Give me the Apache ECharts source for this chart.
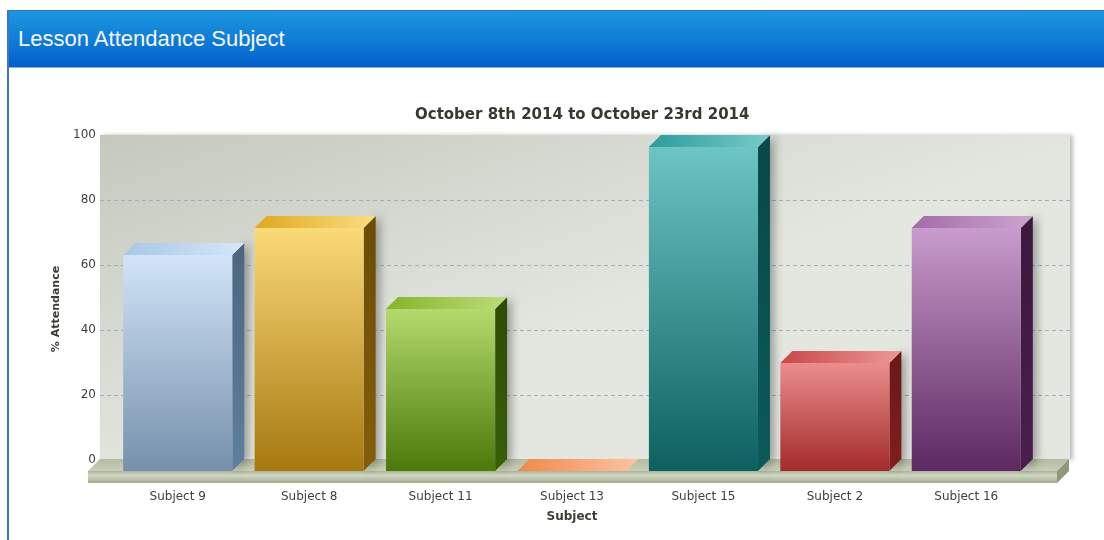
<!DOCTYPE html>
<html>
<head>
<meta charset="utf-8">
<script src="https://cdn.jsdelivr.net/npm/echarts@6/dist/echarts.min.js"></script>
<style>
  html, body { margin: 0; padding: 0; background: #fff; }
  #chart { position: absolute; left: 0; top: 0; width: 1104px; height: 540px; }
  #panel { position: absolute; left: 7px; top: 10px; width: 1097px; height: 530px;
           border-left: 2px solid #3f74c8; box-sizing: border-box; pointer-events: none; }
  #head { height: 58px; border-top: 1px solid #3a6fc4; border-bottom: 1px solid #7fb0e6;
          box-sizing: border-box;
          background: linear-gradient(to bottom, #1b98df 0%, #0f7ad6 55%, #055ecb 100%);
          color: #f4f8fc; font: 22px "Liberation Sans", Arial, sans-serif;
          line-height: 56px; padding-left: 9px; }
</style>
</head>
<body>
<div id="chart"></div>
<div id="panel"><div id="head">Lesson Attendance Subject</div></div>
<script>
// ---------------- data ----------------
var subjects = ['Subject 9', 'Subject 8', 'Subject 11', 'Subject 13', 'Subject 15', 'Subject 2', 'Subject 16'];
var attendance = [66.67, 75, 50, 0, 100, 33.33, 75];
var yTicks = [0, 20, 40, 60, 80, 100];

// front gradient top, front gradient bottom, side, top face
var barColors = [
  ['#d2e5f8', '#7690ac', '#4d6580', '#a8c7e6'],
  ['#fbda78', '#a67810', '#6a4c08', '#dfa81e'],
  ['#b4da6c', '#4a790a', '#2d4c05', '#86b42a'],
  ['#f0884a', '#fbc4a4', '#c8643a', '#f29a68'],
  ['#6cc4c4', '#0e6060', '#094848', '#2c9c9c'],
  ['#ec8d8d', '#a22a2a', '#681818', '#c84848'],
  ['#c89ccc', '#5c2860', '#3c183f', '#a46aa8']
];

var depth = 12;

function lin(a, b, x) {
  return new echarts.graphic.LinearGradient(0, 0, x ? 1 : 0, x ? 0 : 1, [
    { offset: 0, color: a }, { offset: 1, color: b }
  ]);
}

//---------------- 3d bars ----------------
function renderBar(params, api) {
  var i = api.value(0), v = api.value(1);
  var base = api.coord([i, 0]);
  var top = api.coord([i, v]);
  var w = api.size([1, 0])[0] * 0.83;
  var x0 = base[0] - w / 2, x1 = base[0] + w / 2;
  var c = barColors[params.dataIndex];
  var kids = [];
  if (v > 0) {
    kids.push({
      type: 'polygon',
      shape: { points: [[x1, top[1]], [x1 + depth, top[1] - depth], [x1 + depth, base[1] - depth], [x1, base[1]]] },
      style: { fill: lin(c[2], echarts.color.lift(c[2], -0.25), false),
               shadowBlur: 10, shadowColor: 'rgba(0,0,0,0.35)', shadowOffsetX: 4 }
    });
    kids.push({
      type: 'rect',
      shape: { x: x0, y: top[1], width: w, height: base[1] - top[1] },
      style: { fill: lin(c[0], c[1], false) }
    });
    kids.push({
      type: 'polygon',
      shape: { points: [[x0, top[1]], [x0 + depth, top[1] - depth], [x1 + depth, top[1] - depth], [x1, top[1]]] },
      style: { fill: lin(c[3], echarts.color.lift(c[0], 0.1), true) }
    });
  } else {
    kids.push({
      type: 'polygon',
      shape: { points: [[x0, base[1]], [x0 + depth, base[1] - depth], [x1 + depth, base[1] - depth], [x1, base[1]]] },
      style: { fill: lin(c[0], c[1], true) }
    });
  }
  return { type: 'group', children: kids };
}

//---------------- floor ----------------
function renderFloor(params, api) {
  var cs = params.coordSys;
  var fx0 = cs.x - 24, fx1 = cs.x + cs.width + 25;
  var fy = cs.y + cs.height, th = 12;
  return {
    type: 'group',
    children: [
      { type: 'polygon',
        shape: { points: [[fx0, fy], [fx0 + depth, fy - depth], [fx1 + depth, fy - depth], [fx1, fy]] },
        style: { fill: lin('#b3bb9f', '#c9cfb9', false) } },
      { type: 'rect', shape: { x: fx0, y: fy, width: fx1 - fx0, height: th },
        style: { fill: new echarts.graphic.LinearGradient(0, 0, 0, 1, [
          { offset: 0, color: '#a9b295' }, { offset: 0.35, color: '#d3d8c6' }, { offset: 1, color: '#a3ab90' }
        ]) } },
      { type: 'polygon',
        shape: { points: [[fx1, fy], [fx1 + depth, fy - depth], [fx1 + depth, fy - depth + th], [fx1, fy + th]] },
        style: { fill: '#8e9979' } }
    ]
  };
}

var chart = echarts.init(document.getElementById('chart'));
chart.setOption({
  animation: false,
  textStyle: { fontFamily: 'DejaVu Sans' },
  title: {
    text: 'October 8th 2014 to October 23rd 2014',
    left: 410, top: 103,
    textStyle: { fontSize: 15, fontWeight: 'bold', color: '#363a2e', fontFamily: 'DejaVu Sans' }
  },
  grid: [
    { left: 100, right: 34, top: 135, bottom: 80, show: true, borderWidth: 0,
      backgroundColor: new echarts.graphic.LinearGradient(0, 0, 0.12, 1, [
        { offset: 0, color: '#c5c8bd' }, { offset: 0.6, color: '#d8dbd3' }, { offset: 1, color: '#e4e7e0' }
      ]),
      shadowColor: 'rgba(0,0,0,0.25)', shadowBlur: 4, shadowOffsetX: 3 },
    { left: 112, right: 72, top: 147, bottom: 69 }
  ],
  xAxis: [
    { gridIndex: 0, type: 'category', data: subjects, show: false },
    { gridIndex: 1, type: 'category', data: subjects,
      axisLine: { show: false }, axisTick: { show: false },
      axisLabel: { fontSize: 12, color: '#3f3f3a', margin: 20 },
      name: 'Subject', nameLocation: 'middle', nameGap: 40,
      nameTextStyle: { fontSize: 12, fontWeight: 'bold', color: '#3c3c34' } }
  ],
  yAxis: [
    { gridIndex: 0, type: 'value', min: yTicks[0], max: yTicks[yTicks.length - 1], interval: 20,
      axisLine: { show: false }, axisTick: { show: false },
      axisLabel: { fontSize: 12, color: '#3f3f3a', margin: 4 },
      splitLine: { show: true, showMinLine: false, showMaxLine: false,
                   lineStyle: { color: '#98b3c0', type: [4, 3], width: 1 } } },
    { gridIndex: 1, type: 'value', min: yTicks[0], max: yTicks[yTicks.length - 1], interval: 20,
      axisLine: { show: false }, axisTick: { show: false }, axisLabel: { show: false },
      splitLine: { show: false },
      name: '% Attendance', nameLocation: 'middle', nameGap: 50, nameRotate: 90,
      nameTextStyle: { fontSize: 11, fontWeight: 'bold', color: '#3c3c34' } }
  ],
  series: [
    { type: 'custom', xAxisIndex: 1, yAxisIndex: 1, data: [[0, 0]], renderItem: renderFloor, z: 1, silent: true },
    { type: 'custom', xAxisIndex: 1, yAxisIndex: 1, z: 3,
      data: attendance.map(function (v, i) { return [i, v]; }),
      renderItem: renderBar }
  ]
});
</script>
</body>
</html>
